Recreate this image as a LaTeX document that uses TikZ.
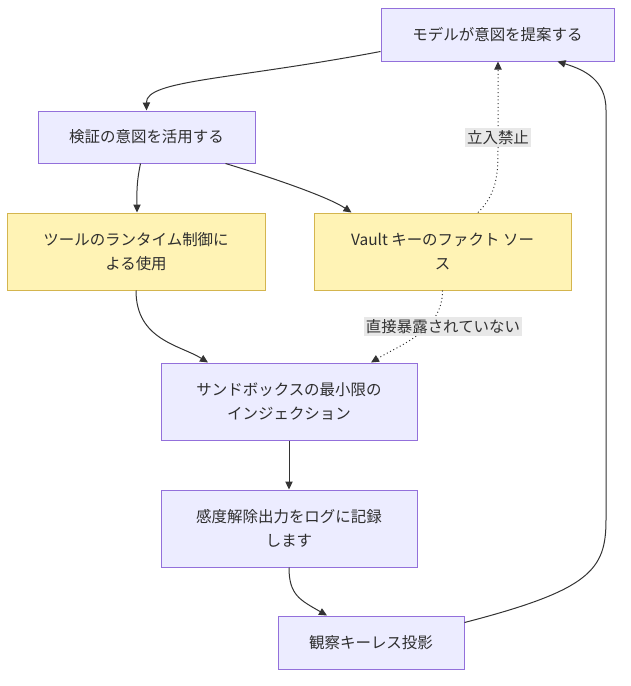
\documentclass[tikz,border=0pt]{standalone}
\usepackage{fontspec}
\newfontfamily\jpfont{Noto Sans CJK JP}
\usetikzlibrary{arrows.meta,calc}
\definecolor{stepfill}{HTML}{ECECFF}
\definecolor{stepline}{HTML}{9370DB}
\definecolor{keyfill}{HTML}{FFF3B5}
\definecolor{keyline}{HTML}{D4B54E}
\definecolor{edgegray}{HTML}{333333}
\definecolor{lblgray}{HTML}{E8E8E8}

\begin{document}
\begin{tikzpicture}[x=0.75pt,y=-0.75pt,
		stepbox/.style={draw=stepline,fill=stepfill,line width=0.75pt,inner sep=0pt,
			align=center,font=\jpfont\fontsize{11.6}{18}\selectfont,text=edgegray!90!black},
		keybox/.style={stepbox,draw=keyline,fill=keyfill},
		edge/.style={draw=edgegray,line width=0.75pt,-{Triangle[length=6pt,width=5.5pt]}},
		weak/.style={edge,dotted},
		lbl/.style={fill=lblgray,inner sep=1.5pt,font=\jpfont\fontsize{11.6}{14}\selectfont,text=edgegray}]
		\useasboundingbox (0,0) rectangle (631,686);
		% nodes
		\node[stepbox,minimum width=174.75pt,minimum height=39.75pt] (propose) at (497.5,34.5) {モデルが意図を提案する};
		\node[stepbox,minimum width=162.75pt,minimum height=39pt] (verify) at (146.5,137) {検証の意図を活用する};
		\node[keybox,minimum width=193.5pt,minimum height=57.75pt] (tool) at (136,251.5) {ツールのランタイム制御に\\よる使用};
		\node[keybox,minimum width=192.75pt,minimum height=57.75pt] (vault) at (442.5,251.5) {Vault キーのファクト ソー\\ス};
		\node[stepbox,minimum width=192pt,minimum height=57.75pt] (inject) at (289,401.5) {サンドボックスの最小限の\\インジェクション};
		\node[stepbox,minimum width=192pt,minimum height=57.75pt] (redact) at (289,528.5) {感度解除出力をログに記録\\します};
		\node[stepbox,minimum width=139.5pt,minimum height=39.75pt] (project) at (371,642.5) {観察キーレス投影};
		% edges
		\draw[edge] ($(propose.west)+(0,17)$) .. controls (230,80) and (146,80) .. (verify.north);
		\draw[edge] ($(verify.south)+(-6,0)$) .. controls (136,185) and (137,195) .. ($(tool.north)+(1,0)$);
		\draw[edge] ($(verify.south)+(79,0)$) .. controls (280,180) and (330,198) .. ($(vault.north)+(-91,0)$);
		\draw[weak] ($(vault.north)+(35.5,0)$) .. controls (495,195) and (498,180) .. (498,150)
			-- ($(propose.south)+(0.5,0)$);
		\node[lbl] (forbid) at (498,137.5) {立入禁止};
		\draw[edge] ($(tool.south)+(0,0)$) .. controls (136,340) and (180,345) .. ($(inject.north)+(-81,0)$);
		\draw[weak] (vault.south) .. controls (443,330) and (400,345) .. ($(inject.north)+(82,0)$);
		\node[lbl] (hidden) at (443,326.5) {直接暴露されていない};
		\draw[edge] (inject.south) -- (redact.north);
		\draw[edge] (redact.south) .. controls (289,595) and (300,600) .. ($(project.north)+(-44,0)$);
		\draw[edge] ($(project.east)+(0,-20)$) .. controls (590,590) and (606,570) .. (606,520)
			-- (606,110) .. controls (606,80) and (585,70) .. ($(propose.south)+(60,0)$);
	\end{tikzpicture}
\end{document}
